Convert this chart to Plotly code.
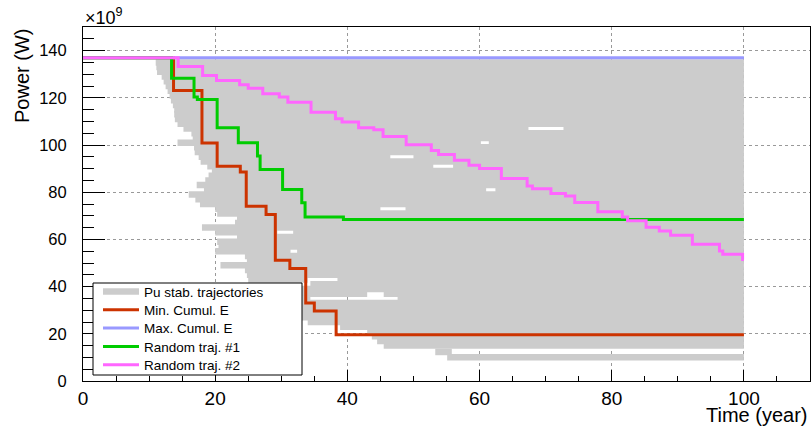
import plotly.graph_objects as go

# ---------------- data ----------------
# Min. Cumul. E (step trajectory: time in years, power in 1e9 W)
red_t = [0, 13.7, 18.0, 20.3, 23.8, 24.7, 27.7, 29.1, 31.3, 33.7, 35.0, 38.3, 100]
red_p = [137, 123.1, 100.8, 91.0, 88.6, 74.0, 70.5, 51.2, 47.7, 33.0, 29.7, 19.6, 19.6]

# Max. Cumul. E
blue_t = [0, 100]
blue_p = [137, 137]

# Random traj. #1
green_t = [0, 13.4, 16.8, 17.3, 20.3, 23.5, 26.4, 26.8, 30.2, 33.1, 33.6, 39.4, 100]
green_p = [137, 128.3, 120.3, 119.3, 107.3, 101.0, 95.3, 89.6, 81.1, 75.5, 69.5, 68.4, 68.4]

# Random traj. #2
mag_t = [0, 14.4, 18.1, 20.2, 23.7, 25.0, 27.2, 29.7, 31.0, 34.5, 38.2, 39.2, 41.7,
         44.0, 45.4, 48.9, 52.7, 53.8, 56.2, 58.4, 60.0, 63.3, 67.2, 68.0, 70.8,
         73.0, 74.4, 77.9, 81.6, 82.4, 85.2, 87.2, 88.9, 92.2, 96.3, 96.8, 99.8, 100]
mag_p = [137, 133.3, 129.4, 127.3, 125.5, 124.0, 121.7, 120.3, 118.1, 113.9, 111.1,
         109.7, 107.3, 106.5, 103.6, 100.1, 97.7, 96.0, 93.5, 91.4, 90.0, 85.8, 82.6,
         81.5, 79.4, 78.4, 75.6, 71.7, 69.5, 67.9, 65.1, 63.6, 61.8, 57.9, 55.1, 53.7,
         51.5, 51.5]

# Pu stab. trajectories: final plateaus (level, first year at that level, end year)
grey_level = [135, 133, 131, 129, 127, 125, 123, 121, 119, 117, 115, 113, 111, 109,
              107, 105, 103, 101, 99, 97, 95, 93, 91, 89, 87, 85, 83, 81, 79, 77, 75,
              73, 71, 69, 67, 65, 63, 61, 59, 57, 55, 53, 51, 49, 47, 45, 43, 41, 39,
              37, 35, 33, 31, 29, 27, 25, 23, 21, 19, 17, 15, 12.3, 10.1]
grey_start = [11.0, 11.1, 11.2, 11.9, 12.2, 12.5, 12.8, 13.1, 13.3, 13.6, 13.8, 13.8,
              13.9, 14.3, 15.2, 16.4, 16.6, 14.3, 16.8, 16.9, 17.5, 17.8, 18.8, 19.5,
              19.0, 18.5, 17.2, 18.3, 16.0, 17.0, 17.7, 20.0, 20.3, 23.3, 23.0, 18.0,
              20.0, 23.3, 20.3, 20.5, 20.0, 24.5, 24.8, 20.8, 24.5, 24.8, 25.0, 34.4,
              33.0, 33.0, 33.0, 33.0, 33.0, 33.0, 33.0, 34.0, 38.9, 43.0, 43.7, 44.5,
              45.5, 53.3, 55.1]
grey_end = [100] * 61 + [55.8, 100]

# white holes between neighbouring plateaus (level, from year, to year)
gap_level = [107, 101, 91, 95, 73, 81, 55, 43, 35, 37, 63]
gap_from = [67.4, 60.2, 53.0, 46.5, 45.0, 61.0, 31.4, 34.0, 34.4, 43.0, 29.4]
gap_to = [72.7, 61.4, 56.0, 50.0, 48.8, 62.4, 32.4, 38.5, 47.6, 45.5, 31.8]

x_ticks = [0, 20, 40, 60, 80, 100]
y_ticks = [0, 20, 40, 60, 80, 100, 120, 140]

# ---------------- build grey segments ----------------
gx, gy = [], []
for lev, t0, t1 in zip(grey_level, grey_start, grey_end):
    pieces = [(t0, t1)]
    for gl, ga, gb in zip(gap_level, gap_from, gap_to):
        if gl == lev:
            new = []
            for a, b in pieces:
                if gb <= a or ga >= b:
                    new.append((a, b))
                else:
                    if ga > a:
                        new.append((a, ga))
                    if gb < b:
                        new.append((gb, b))
            pieces = new
    for a, b in pieces:
        gx += [a, b, None]
        gy += [lev, lev, None]

FONT = "Liberation Sans, Arial, Helvetica, sans-serif"

fig = go.Figure()
fig.add_trace(go.Scatter(x=gx, y=gy, mode="lines", name="Pu stab. trajectories",
                         line=dict(color="#cccccc", width=6.5), legend="legend",
                         connectgaps=False))
fig.add_trace(go.Scatter(x=red_t, y=red_p, mode="lines", name="Min. Cumul. E",
                         line=dict(color="#cc3300", width=3, shape="hv"), legend="legend2"))
fig.add_trace(go.Scatter(x=blue_t, y=blue_p, mode="lines", name="Max. Cumul. E",
                         line=dict(color="#9999ff", width=3), legend="legend3"))
fig.add_trace(go.Scatter(x=green_t, y=green_p, mode="lines", name="Random traj. #1",
                         line=dict(color="#00cc00", width=3, shape="hv"), legend="legend4"))
fig.add_trace(go.Scatter(x=mag_t, y=mag_p, mode="lines", name="Random traj. #2",
                         line=dict(color="#ff66ff", width=3, shape="hv"), legend="legend5"))

L, R, T, B = 83, 2, 27, 45
PW, PH = 812 - L - R, 426 - T - B

def px_x(px):
    return (px - L) / PW

def px_y(py):
    return (426 - B - py) / PH

leg_common = dict(xanchor="left", yanchor="middle", bgcolor="rgba(0,0,0,0)",
                  borderwidth=0, font=dict(family=FONT, size=13.5, color="black"),
                  itemwidth=36)
row_y = [291.7, 310.0, 328.3, 346.7, 365.0]
legends = {}
for i, yy in enumerate(row_y):
    key = "legend" if i == 0 else "legend%d" % (i + 1)
    legends[key] = dict(x=px_x(98), y=px_y(yy), **leg_common)

fig.update_layout(
    width=812, height=426,
    margin=dict(l=L, r=R, t=T, b=B),
    paper_bgcolor="white", plot_bgcolor="white",
    showlegend=True,
    font=dict(family=FONT, color="black"),
    **legends,
    xaxis=dict(range=[0, 110], tickvals=x_ticks, ticks="inside", ticklen=11,
               tickcolor="black", showline=True, linecolor="black", linewidth=1,
               mirror=True, showgrid=True, gridcolor="#999999", griddash="dot",
               gridwidth=1, zeroline=False, tickfont=dict(size=19, family=FONT),
               minor=dict(dtick=5, ticks="inside", ticklen=5.5, tickcolor="black",
                          showgrid=False)),
    yaxis=dict(range=[0, 150], tickvals=y_ticks, ticks="inside", ticklen=22,
               tickcolor="black", showline=True, linecolor="black", linewidth=1,
               mirror=True, showgrid=True, gridcolor="#999999", griddash="dot",
               gridwidth=1, zeroline=False, tickfont=dict(size=16.5, family=FONT),
               ticklabelstandoff=12,
               minor=dict(dtick=5, ticks="inside", ticklen=11, tickcolor="black",
                          showgrid=False)),
    shapes=[dict(type="rect", xref="paper", yref="paper",
                 x0=px_x(93), x1=px_x(302), y0=px_y(375), y1=px_y(283),
                 fillcolor="white", line=dict(color="black", width=1), layer="above")],
    annotations=[
        dict(text="Power (W)", textangle=-90, xref="paper", yref="paper",
             x=px_x(22), y=1.0, xanchor="center", yanchor="top", showarrow=False,
             font=dict(size=20, family=FONT)),
        dict(text="Time (year)", xref="paper", yref="paper", x=px_x(809), y=px_y(401.5),
             xanchor="right", yanchor="top", showarrow=False,
             font=dict(size=20, family=FONT)),
        dict(text="×10<sup>9</sup>", xref="paper", yref="paper", x=0, y=1.0,
             xanchor="left", yanchor="bottom", showarrow=False, yshift=-3,
             font=dict(size=18, family=FONT)),
    ],
)

fig.write_html("out.html")
